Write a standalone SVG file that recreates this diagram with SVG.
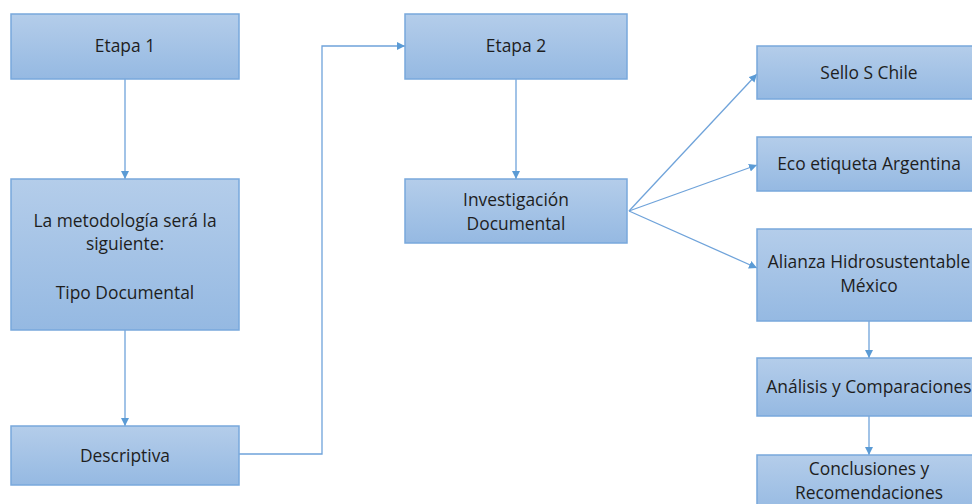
<svg xmlns="http://www.w3.org/2000/svg" width="972" height="504" viewBox="0 0 972 504">
<defs>
<linearGradient id="g" x1="0" y1="0" x2="0" y2="1">
<stop offset="0" stop-color="#b4cdea"/>
<stop offset="1" stop-color="#95b9e2"/>
</linearGradient>
<marker id="ah" viewBox="0 0 10 10" refX="10" refY="5" markerWidth="8" markerHeight="8" markerUnits="userSpaceOnUse" orient="auto">
<path d="M0,0 L10,5 L0,10 z" fill="#5b9bd5"/>
</marker>
</defs>
<style>
.box{fill:url(#g);stroke:#78a8dc;stroke-width:1.5}
.t{font-family:"Open Sans",Lato,sans-serif;font-size:17.4px;fill:#1e1e1e;text-anchor:middle}
.c{fill:none;stroke:#6fa3da;stroke-width:1.3}
</style>
<g id="connectors">
<line class="c" x1="125" y1="79" x2="125" y2="179" marker-end="url(#ah)"/>
<line class="c" x1="125" y1="330" x2="125" y2="426" marker-end="url(#ah)"/>
<polyline class="c" points="239,454 322,454 322,46 405,46" marker-end="url(#ah)"/>
<line class="c" x1="516" y1="79" x2="516" y2="179" marker-end="url(#ah)"/>
<line class="c" x1="629" y1="211" x2="757" y2="74" marker-end="url(#ah)"/>
<line class="c" x1="629" y1="211" x2="757" y2="165" marker-end="url(#ah)"/>
<line class="c" x1="629" y1="211" x2="757" y2="268" marker-end="url(#ah)"/>
<line class="c" x1="869" y1="321" x2="869" y2="358" marker-end="url(#ah)"/>
<line class="c" x1="869" y1="416" x2="869" y2="455" marker-end="url(#ah)"/>
</g>
<g id="etapa1"><rect class="box" x="11" y="14" width="228" height="65"/><text class="t" x="125" y="52">Etapa 1</text></g>
<g id="metodologia"><rect class="box" x="11" y="179" width="228" height="151"/>
<text class="t" x="125" y="227">La metodología será la</text>
<text class="t" x="125" y="250">siguiente:</text>
<text class="t" x="125" y="299">Tipo Documental</text></g>
<g id="descriptiva"><rect class="box" x="11" y="426" width="228" height="59"/><text class="t" x="125" y="462">Descriptiva</text></g>
<g id="etapa2"><rect class="box" x="405" y="14" width="222" height="65"/><text class="t" x="516" y="52">Etapa 2</text></g>
<g id="investigacion"><rect class="box" x="405" y="179" width="222" height="64"/>
<text class="t" x="516" y="206">Investigación</text>
<text class="t" x="516" y="230">Documental</text></g>
<g id="sello"><rect class="box" x="757" y="46" width="224" height="53"/><text class="t" x="869" y="79">Sello S Chile</text></g>
<g id="eco"><rect class="box" x="757" y="137" width="224" height="54"/><text class="t" x="869" y="170">Eco etiqueta Argentina</text></g>
<g id="alianza"><rect class="box" x="757" y="229" width="224" height="92"/>
<text class="t" x="869" y="268">Alianza Hidrosustentable</text>
<text class="t" x="869" y="292">México</text></g>
<g id="analisis"><rect class="box" x="757" y="358" width="224" height="58"/><text class="t" x="869" y="393">Análisis y Comparaciones</text></g>
<g id="conclusiones"><rect class="box" x="757" y="455" width="224" height="60"/>
<text class="t" x="869" y="475">Conclusiones y</text>
<text class="t" x="869" y="499">Recomendaciones</text></g>
</svg>
